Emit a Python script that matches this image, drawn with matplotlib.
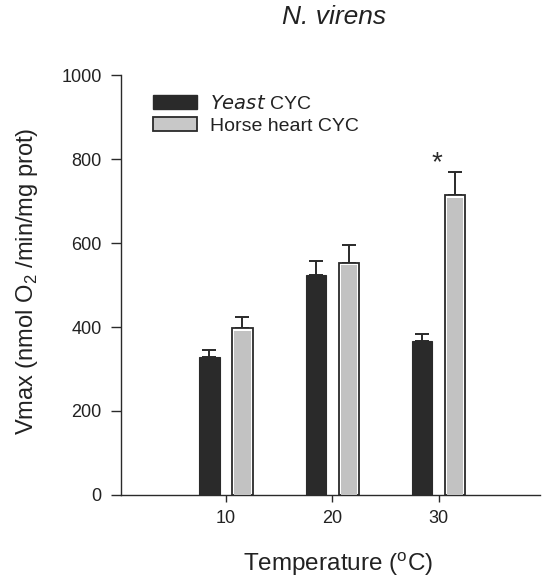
import matplotlib
matplotlib.use('Agg')
import matplotlib.pyplot as plt
from matplotlib.patches import Rectangle
import numpy as np

# Data
temps = [10, 20, 30]
yeast = [329, 525, 366]
yeast_err = [16, 33, 17]
horse = [397, 553, 714]
horse_err = [26, 43, 54]
yticks = [0, 200, 400, 600, 800, 1000]

plt.rcParams['font.family'] = ['Liberation Sans', 'DejaVu Sans']
ink = '#2a2a2a'
txt = '#222222'

fig = plt.figure(figsize=(5.43, 5.82), dpi=100)
ax = fig.add_axes([0.223, 0.1495, 0.771, 0.7216])

x = np.array(temps, dtype=float)
w = 1.9
off = 1.55

ax.bar(x - off, yeast, width=w, color=ink, edgecolor=ink,
       linewidth=0.8, label='Yeast CYC', zorder=3)
ax.errorbar(x - off, yeast, yerr=[np.zeros(3), yeast_err], fmt='none',
            ecolor=ink, elinewidth=1.4, capsize=5, capthick=1.4, zorder=2)

# horse heart: outlined bar with a grey core
ax.bar(x + off, horse, width=w, color='white', edgecolor=ink,
       linewidth=1.3, zorder=3)
ax.bar(x + off, np.array(horse) - 6, width=w * 0.8, color='#c2c2c2',
       edgecolor='none', zorder=4)
ax.errorbar(x + off, horse, yerr=[np.zeros(3), horse_err], fmt='none',
            ecolor=ink, elinewidth=1.4, capsize=5, capthick=1.4, zorder=2)

# significance marker
ax.text(x[2] - 0.2, horse[2] + horse_err[2] + 22, '*', fontsize=20,
        ha='center', va='center', color=ink)

ax.set_xlim(0.14, 39.5)
ax.set_ylim(0, 1000)
ax.set_xticks(temps)
ax.set_yticks(yticks)
ax.spines['top'].set_visible(False)
ax.spines['right'].set_visible(False)
for s in ['left', 'bottom']:
    ax.spines[s].set_color(ink)
    ax.spines[s].set_linewidth(1.0)
ax.tick_params(axis='both', direction='out', width=1.0, color=ink,
               labelsize=13, labelcolor=txt)
ax.tick_params(axis='x', length=5, pad=6)
ax.tick_params(axis='y', length=7, pad=7)

ax.set_xlabel('Temperature ($^\\mathregular{o}$C)', fontsize=17.5, color=txt)
ax.xaxis.set_label_coords(0.517, -0.164)
ax.xaxis.label.set_va('center')
ax.set_ylabel('Vmax (nmol O$_\\mathregular{2}$ /min/mg prot)', fontsize=17,
              color=txt)
ax.yaxis.set_label_coords(-0.225, 0.51)
ax.yaxis.label.set_va('center')

fig.text(0.615, 1 - 17 / 582, 'N. virens', fontsize=19, style='italic',
         ha='center', va='center', color=txt)

# legend with a matching proxy for the outlined grey bar
h_yeast = Rectangle((0, 0), 1, 1, facecolor=ink, edgecolor=ink)
h_horse = Rectangle((0, 0), 1, 1, facecolor='#c8c8c8', edgecolor=ink, linewidth=1.3)
leg = ax.legend([h_yeast, h_horse], ['$\\mathit{Yeast}$ CYC', 'Horse heart CYC'],
                loc='upper left', bbox_to_anchor=(0.076, 0.952), frameon=False,
                borderpad=0, borderaxespad=0, fontsize=14, handlelength=2.27,
                handleheight=0.72, handletextpad=0.67, labelspacing=0.2)
for t in leg.get_texts():
    t.set_color(txt)

plt.savefig('out.png', dpi=100)
